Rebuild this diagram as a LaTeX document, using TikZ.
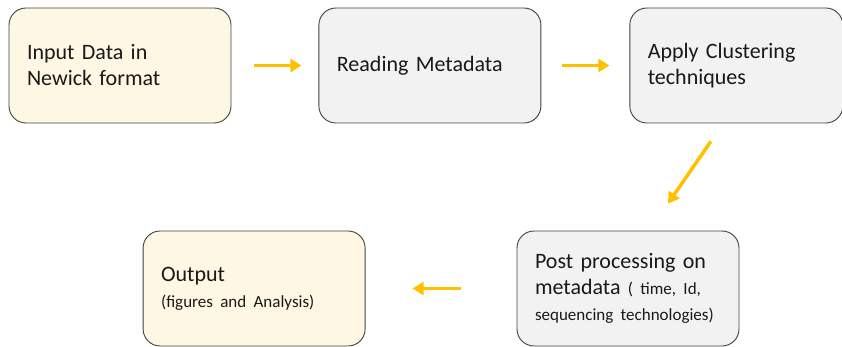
\documentclass[tikz,border=0pt]{standalone}
\usepackage{fontspec}
\setmainfont{Carlito}
\usepackage{xcolor}
\usepackage{tikz}
\usetikzlibrary{arrows.meta,positioning}
\definecolor{cream}{HTML}{FEF7E3}
\definecolor{lgray}{HTML}{F2F2F2}
\definecolor{edgegray}{HTML}{404040}
\definecolor{gold}{HTML}{FFC000}
\tikzstyle{stage} = [rectangle, rounded corners=17pt, draw=edgegray, line width=0.9pt, text=black!90, align=left, text width=186pt, minimum width=222pt, minimum height=115pt, inner xsep=18pt, font=\fontsize{22}{26}\selectfont]
\tikzstyle{inout} = [stage, fill=cream]
\tikzstyle{proc}  = [stage, fill=lgray]
\tikzstyle{flow}  = [draw=gold, line width=3.5pt, -{Triangle[length=11pt,width=13pt]}]
\newcommand{\smalltxt}{\fontsize{17}{25}\selectfont}

\begin{document}
\begin{tikzpicture}
\useasboundingbox (0pt,0pt) rectangle (842pt,-347pt);

% stages =============================
\node[inout] (input) at (120pt,-65.5pt) {Input Data in\\Newick format};
\node[proc, right=87pt of input] (read) {Reading Metadata};
\node[proc, right=88pt of read, minimum width=213pt, text width=177pt] (clust) {Apply Clustering\\techniques};
\node[proc] (post) at (628pt,-288.5pt) {Post processing on\\metadata {\smalltxt( time, Id,}\\{\smalltxt sequencing technologies)}};
\node[inout, left=151pt of post] (output) {Output\\{\smalltxt(figures and Analysis)}};

% free ends of the slanted arrow
\coordinate (dstart) at ([xshift=-25.5pt,yshift=-18pt]clust.south);
\coordinate (dend) at ([xshift=40pt,yshift=27pt]post.north);

% edges
\draw[flow, shorten <=23pt, shorten >=17pt] (input) -- (read);
\draw[flow, shorten <=21pt, shorten >=20pt] (read) -- (clust);
\draw[flow] (dstart) -- (dend);
\draw[flow, shorten <=56pt, shorten >=47pt] (post) -- (output);

\end{tikzpicture}
\end{document}
